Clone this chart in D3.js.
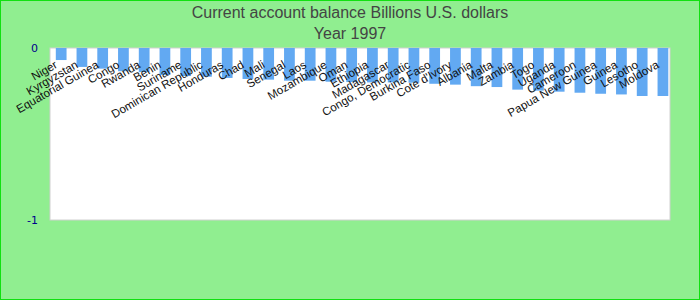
<!DOCTYPE html>
<html>
<head>
<meta charset="utf-8">
<script src="https://cdn.jsdelivr.net/npm/d3@7.9.0/dist/d3.min.js"></script>
<style>
  body { margin: 0; background: #fff; }
  svg { display: block; }
</style>
</head>
<body>
<svg id="chart" width="700" height="300"></svg>
<script>
// Data
const titleLines = ["Current account balance Billions U.S. dollars", "Year 1997"];

const countries = [
  "Niger", "Kyrgyzstan", "Equatorial Guinea", "Congo", "Rwanda", "Benin",
  "Suriname", "Dominican Republic", "Honduras", "Chad", "Mali", "Senegal",
  "Laos", "Mozambique", "Oman", "Ethiopia", "Madagascar", "Congo, Democratic",
  "Burkina Faso", "Cote d'Ivory", "Albania", "Malta", "Zambia", "Togo",
  "Uganda", "Cameroon", "Papua New Guinea", "Guinea", "Lesotho", "Moldova"
];

const balance = [
  -0.07, -0.11, -0.12, -0.135, -0.14, -0.157,
  -0.163, -0.167, -0.174, -0.18, -0.184, -0.19,
  -0.19, -0.196, -0.198, -0.2, -0.2, -0.202,
  -0.208, -0.213, -0.222, -0.227, -0.242, -0.248,
  -0.254, -0.26, -0.266, -0.27, -0.279, -0.279
];

const yTicks = [0, -1];

const svg = d3.select("#chart");

// background + outer border
svg.append("rect")
  .attr("x", 0.5).attr("y", 0.5)
  .attr("width", 699).attr("height", 299)
  .attr("fill", "#90ee90")
  .attr("stroke", "#11e011")
  .attr("stroke-width", 1);

// plot area
const plot = { left: 50, right: 670, top: 48, bottom: 220 };

svg.append("rect")
  .attr("x", plot.left).attr("y", plot.top)
  .attr("width", plot.right - plot.left)
  .attr("height", plot.bottom - plot.top)
  .attr("fill", "#ffffff")
  .attr("stroke", "#d0d0d0")
  .attr("stroke-width", 1);

// scales
let x = d3.scaleBand()
  .domain(countries)
  .range([55.8, 668.3])
  .paddingInner(0.482)
  .paddingOuter(0);

let y = d3.scaleLinear()
  .domain([-1, 0])
  .range([plot.bottom, plot.top]);

// bars
svg.append("g")
  .selectAll("rect")
  .data(countries)
  .join("rect")
  .attr("x", (d) => x(d))
  .attr("y", y(0))
  .attr("width", x.bandwidth())
  .attr("height", (d, i) => y(balance[i]) - y(0))
  .attr("fill", "#62a9f2");

// y axis labels (no line, no ticks), plain hyphen for the minus
let yAxis = d3.axisLeft(y)
  .tickValues(yTicks)
  .tickFormat((d) => String(d))
  .tickSize(0)
  .tickPadding(12);

let yg = svg.append("g")
  .attr("transform", `translate(${plot.left},0)`)
  .call(yAxis);
yg.select(".domain").remove();
yg.selectAll("text")
  .attr("fill", "#00008b")
  .style("font-family", "'DejaVu Sans', sans-serif")
  .style("font-size", "11px");

// category labels, rotated, ending at each bar
svg.append("g")
  .selectAll("text")
  .data(countries)
  .join("text")
  .attr("transform", (d) => `translate(${x(d) + x.bandwidth() / 2 - 3},67) rotate(-30)`)
  .attr("text-anchor", "end")
  .attr("fill", "#111")
  .style("font-family", "'Liberation Sans', Arial, sans-serif")
  .style("font-size", "11.6px")
  .text((d) => d);

// title
svg.append("g")
  .selectAll("text")
  .data(titleLines)
  .join("text")
  .attr("x", 350)
  .attr("y", (d, i) => 18 + i * 21)
  .attr("text-anchor", "middle")
  .attr("fill", "#444")
  .style("font-family", "'Liberation Sans', Arial, sans-serif")
  .style("font-size", "16px")
  .text((d) => d);
</script>
</body>
</html>
